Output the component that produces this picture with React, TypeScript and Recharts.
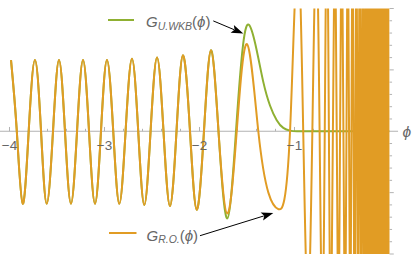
import React from 'react';
import { LineChart, Line, XAxis, YAxis, ReferenceLine, ReferenceDot } from 'recharts';

// G_R.O.(phi): phi positions and values
const phiRO = [
  -3.984, -3.923, -3.861, -3.798, -3.732, -3.668, -3.608, -3.542, -3.479,
  -3.416, -3.353, -3.289, -3.226, -3.163, -3.1, -3.037, -2.974, -2.908, -2.844,
  -2.778, -2.711, -2.645, -2.581, -2.515, -2.447, -2.379, -2.311, -2.242, -2.174,
  -2.1, -2.029, -1.953, -1.879, -1.8, -1.707, -1.608, -1.5, -1.381, -1.275,
  -1.168, -1.047,
  -0.947, -0.853, -0.768, -0.705, -0.658, -0.616, -0.574, -0.537, -0.503, -0.468,
  -0.439, -0.413, -0.389, -0.368, -0.348, -0.331, -0.314, -0.298, -0.283, -0.268,
  -0.254, -0.241, -0.228, -0.216, -0.203, -0.192, -0.18, -0.168, -0.158, -0.147,
  -0.137, -0.126, -0.117, -0.107, -0.098, -0.088, -0.079, -0.07, -0.062, -0.054,
  -0.045, -0.037, -0.028, -0.02, -0.012, -0.003,
];
const gRO = [
  0.58, 0, -0.59, 0, 0.58, 0, -0.59, 0, 0.58,
  0, -0.59, 0, 0.58, 0, -0.59, 0, 0.58, 0, -0.59,
  0, 0.59, 0, -0.6, 0, 0.6, 0, -0.61, 0, 0.62,
  0, -0.64, 0, 0.66, 0, -0.67, 0, 0.71, 0, -0.5,
  -0.635, 0,
  1.3, -1.4, 1.5, -1.6, 1.7, -1.8, 1.9, -2, 2, -2,
  2, -2, 2, -2, 2, -2, 2, -2, 2, -2,
  2, -2, 2, -2, 2, -2, 2, -2, 2, -2,
  2, -2, 2, -2, 2, -2, 2, -2, 2, -2,
  2, -2, 2, -2, 2, -2,
];

// G_U.WKB(phi)
const phiWKB = [
  -3.984, -3.923, -3.861, -3.798, -3.732, -3.668, -3.608, -3.542, -3.479,
  -3.416, -3.353, -3.289, -3.226, -3.163, -3.1, -3.037, -2.974, -2.908, -2.844,
  -2.778, -2.711, -2.645, -2.581, -2.515, -2.447, -2.379, -2.311, -2.242, -2.174,
  -2.1, -2.029, -1.953, -1.879, -1.8, -1.707, -1.616, -1.542, -1.476, -1.398, -1.328,
  -1.258, -1.187, -1.118, -1.047, -0.974, -0.8, -0.5, -0.2, 0,
];
const gWKB = [
  0.58, 0, -0.59, 0, 0.58, 0, -0.59, 0, 0.58,
  0, -0.59, 0, 0.58, 0, -0.59, 0, 0.58, 0, -0.59,
  0, 0.59, 0, -0.6, 0, 0.6, 0, -0.61, 0, 0.62,
  0, -0.64, 0, 0.66, 0, -0.71, 0, 0.7, 0.864, 0.66, 0.4,
  0.21, 0.09, 0.027, 0.005, 0, 0, 0, 0, 0,
];

const xMajorTicks = [-4, -3, -2, -1];
const xMinorTicks = [
  -3.8, -3.6, -3.4, -3.2, -2.8, -2.6, -2.4, -2.2, -1.8, -1.6, -1.4, -1.2,
  -0.8, -0.6, -0.4, -0.2,
];
const yMajorTicks = [-1, -0.5, 0.5, 1];
const yMinorTicks = [
  -0.9, -0.8, -0.7, -0.6, -0.4, -0.3, -0.2, -0.1, 0.1, 0.2, 0.3, 0.4, 0.6, 0.7, 0.8, 0.9,
];

// annotation arrows (data coordinates)
const arrowWKB = [{ x: -1.855, y: 0.899 }, { x: -1.539, y: 0.796 }];
const arrowRO = [{ x: -1.995, y: -0.851 }, { x: -1.223, y: -0.666 }];

const ORANGE = '#E19C24';
const GREEN = '#8FB032';
const AXIS = '#b3b3b3';
const TEXT = '#666666';
const FONT = '"Liberation Sans", Arial, sans-serif';
const LW = 2;

const roData = phiRO.map((x, i) => ({ x, y: gRO[i] }));
const wkbData = phiWKB.map((x, i) => ({ x, y: gWKB[i] }));

const fmt = (v: number) => (v < 0 ? '\u2212' : '') + Math.abs(v).toFixed(1);
const fmtInt = (v: number) => (v < 0 ? '\u2212' : '') + Math.abs(v).toString();

const ArrowShape = (p: any) => {
  const { x1, y1, x2, y2 } = p;
  if ([x1, y1, x2, y2].some((v) => typeof v !== 'number' || isNaN(v))) return null;
  const dx = x2 - x1;
  const dy = y2 - y1;
  const len = Math.hypot(dx, dy) || 1;
  const ux = dx / len;
  const uy = dy / len;
  const hl = 12;
  const hw = 4.2;
  const bx = x2 - ux * hl;
  const by = y2 - uy * hl;
  return (
    <g>
      <line x1={x1} y1={y1} x2={bx + ux * 2} y2={by + uy * 2} stroke="#000" strokeWidth={1} />
      <polygon
        points={`${x2},${y2} ${bx - uy * hw},${by + ux * hw} ${bx + ux * 2.5},${by + uy * 2.5} ${bx + uy * hw},${by - ux * hw}`}
        fill="#000"
      />
    </g>
  );
};

export default function App() {
  return (
    <div style={{ position: 'absolute', left: 0, top: 0, width: 415, height: 264 }}>
      <LineChart
        width={415}
        height={264}
        margin={{ top: 8.5, right: 25.5, bottom: 10, left: 0 }}
      >
        <XAxis
          type="number"
          dataKey="x"
          domain={[-4.1, 0]}
          allowDataOverflow
          hide
        />
        <YAxis
          type="number"
          domain={[-1, 1]}
          allowDataOverflow
          orientation="right"
          mirror
          width={0}
          ticks={yMajorTicks}
          tickFormatter={fmt}
          tickLine={false}
          tickSize={2}
          tickMargin={2}
          axisLine={{ stroke: AXIS }}
          tick={{ fill: TEXT, fontSize: 13.5, fontFamily: FONT }}
        />
        <ReferenceLine
          segment={[{ x: -4.1, y: 0 }, { x: 0.09, y: 0 }]}
          stroke={AXIS}
          strokeWidth={1}
          ifOverflow="visible"
        />
        {xMajorTicks.map((t) => (
          <ReferenceLine
            key={`xM${t}`}
            segment={[{ x: t, y: 0 }, { x: t, y: 0.035 }]}
            stroke={AXIS}
            ifOverflow="visible"
          />
        ))}
        {xMinorTicks.map((t) => (
          <ReferenceLine
            key={`xm${t}`}
            segment={[{ x: t, y: 0 }, { x: t, y: 0.02 }]}
            stroke={AXIS}
            ifOverflow="visible"
          />
        ))}
        {yMajorTicks.map((t) => (
          <ReferenceLine
            key={`yM${t}`}
            segment={[{ x: 0, y: t }, { x: 0.045, y: t }]}
            stroke={AXIS}
            ifOverflow="visible"
          />
        ))}
        {yMinorTicks.map((t) => (
          <ReferenceLine
            key={`ym${t}`}
            segment={[{ x: 0, y: t }, { x: 0.027, y: t }]}
            stroke={AXIS}
            ifOverflow="visible"
          />
        ))}
        <Line
          data={wkbData}
          dataKey="y"
          type="natural"
          stroke={GREEN}
          strokeWidth={LW}
          dot={false}
          activeDot={false}
          isAnimationActive={false}
        />
        <Line
          data={roData}
          dataKey="y"
          type="natural"
          stroke={ORANGE}
          strokeWidth={LW}
          dot={false}
          activeDot={false}
          isAnimationActive={false}
        />
        {xMajorTicks.map((t) => (
          <ReferenceDot
            key={`xl${t}`}
            x={t}
            y={0}
            r={0}
            fill="none"
            stroke="none"
            ifOverflow="visible"
            label={{
              value: fmtInt(t),
              position: 'bottom',
              offset: 9,
              fill: TEXT,
              fontSize: 13.5,
              fontFamily: FONT,
            }}
          />
        ))}
        <ReferenceLine segment={arrowWKB} ifOverflow="visible" shape={ArrowShape} />
        <ReferenceLine segment={arrowRO} ifOverflow="visible" shape={ArrowShape} />
      </LineChart>
      <svg
        width={415}
        height={264}
        style={{ position: 'absolute', left: 0, top: 0, pointerEvents: 'none' }}
      >
        <line x1={108} y1={20} x2={134} y2={20} stroke={GREEN} strokeWidth={LW} />
        <text x={146} y={27.3} fill={TEXT} fontSize={15} fontFamily={FONT} fontStyle="italic">
          G
          <tspan fontSize={10.5} dy={2.5}>U.WKB</tspan>
          <tspan fontStyle="normal" dy={-2.5}>(</tspan>
          <tspan>ϕ</tspan>
          <tspan fontStyle="normal">)</tspan>
        </text>
        <line x1={109} y1={233} x2={136.5} y2={233} stroke={ORANGE} strokeWidth={LW} />
        <text x={146.5} y={240.5} fill={TEXT} fontSize={15} fontFamily={FONT} fontStyle="italic">
          G
          <tspan fontSize={10.5} dy={2.5}>R.O.</tspan>
          <tspan fontStyle="normal" dy={-2.5}>(</tspan>
          <tspan>ϕ</tspan>
          <tspan fontStyle="normal">)</tspan>
        </text>
        <text x={402.5} y={136.5} fill={TEXT} fontSize={15.5} fontFamily={FONT} fontStyle="italic">
          ϕ
        </text>
      </svg>
    </div>
  );
}
